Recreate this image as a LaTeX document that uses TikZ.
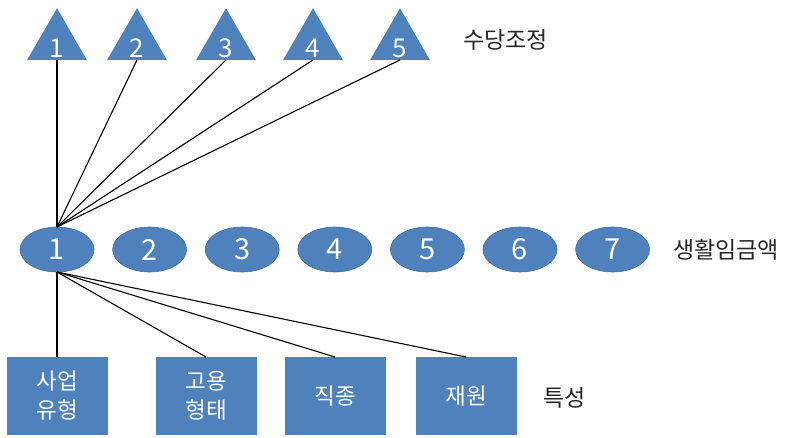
\documentclass[tikz,border=0pt]{standalone}
\usepackage{fontspec}
\setmainfont{Noto Sans CJK KR}
\usetikzlibrary{shapes.geometric}
\definecolor{ofblue}{HTML}{4F81BD}
\definecolor{ofedge}{HTML}{41709F}
\begin{document}
\begin{tikzpicture}[x=1pt,y=-1pt,
  tri/.style={regular polygon, regular polygon sides=3, fill=ofblue, minimum size=69pt,
    inner sep=0pt, outer sep=0pt},
  trinum/.style={text=white, font=\fontsize{26}{26}\selectfont, inner sep=0pt},
  ell/.style={ellipse, fill=ofblue, draw=ofedge, line width=0.6pt, minimum width=74pt,
    minimum height=45pt, inner sep=0pt, outer sep=0pt, text=white,
    font=\fontsize{29}{29}\selectfont},
  sqbox/.style={rectangle, fill=ofblue, minimum width=101pt, minimum height=78pt,
    inner sep=0pt, outer sep=0pt, text=white, align=center,
    font=\fontsize{22.5}{29}\selectfont},
  lab/.style={font=\fontsize{23}{23}\selectfont, text=black!85, anchor=west, inner sep=0pt},
  link/.style={draw=black, line width=1.1pt}]
\useasboundingbox (0,0) rectangle (792,437);
% triangles
\foreach \i/\x in {1/57,2/137,3/226,4/313,5/400}{
  \node[tri] (t\i) at (\x,42.7) {};
  \node[trinum] (tn\i) at (\x,48) {\i};
}
% ellipses
\foreach \i/\x in {1/57,2/149.6,3/242.2,4/334.8,5/427.4,6/520,7/612.6}{
  \node[ell] (e\i) at (\x,249.5) {\i};
}
% boxes
\node[sqbox] (b1) at (57,396) {사업\\유형};
\node[sqbox] (b2) at (206,396) {고용\\형태};
\node[sqbox] (b3) at (335,396) {직종};
\node[sqbox] (b4) at (466,396) {재원};
% labels
\node[lab] (l1) at (463,40) {수당조정};
\node[lab] (l2) at (673,250) {생활임금액};
\node[lab] (l3) at (543,398) {특성};
% connectors
\foreach \i in {1,...,5}{
  \draw[link] (t\i.south) -- (e1.north);
}
\foreach \i in {1,...,4}{
  \draw[link] (e1.south) -- (b\i.north);
}
\end{tikzpicture}
\end{document}
